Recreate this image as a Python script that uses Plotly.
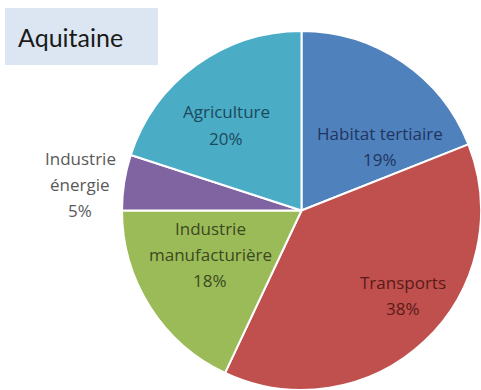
import plotly.graph_objects as go

labels = ["Habitat tertiaire", "Transports", "Industrie manufacturière", "Industrie énergie", "Agriculture"]
label_lines = [["Habitat tertiaire"], ["Transports"], ["Industrie", "manufacturière"], ["Industrie", "énergie"], ["Agriculture"]]
values = [19, 38, 18, 5, 20]
colors = ["#4F81BD", "#C0504D", "#9BBB59", "#8064A2", "#4BACC6"]
text_colors = ["#1F3560", "#5A1A18", "#3B4A1E", "#595959", "#1B4A5C"]
label_pos = [(380, 146), (403, 295), (210, 254), (80, 184), (226, 125)]
LINE_GAP = 26

W, H = 481, 390

fig = go.Figure(go.Pie(
    labels=labels,
    values=values,
    sort=False,
    direction="clockwise",
    rotation=0,
    marker=dict(colors=colors, line=dict(color="white", width=2)),
    textinfo="none",
    hoverinfo="none",
    showlegend=False,
    domain=dict(x=[122 / W, 1.0], y=[0.0, 1 - 31 / H]),
))

annotations = []
for lines, v, c, (px, py) in zip(label_lines, values, text_colors, label_pos):
    all_lines = lines + [f"{v}%"]
    n = len(all_lines)
    for i, t in enumerate(all_lines):
        ly = py + (i - (n - 1) / 2) * LINE_GAP
        annotations.append(dict(
            x=px / W, y=1 - ly / H, xref="paper", yref="paper",
            text=t, showarrow=False,
            font=dict(family="Open Sans", size=17, color=c),
            xanchor="center", yanchor="middle",
        ))

annotations.append(dict(
    x=70 / W, y=1 - 37 / H, xref="paper", yref="paper",
    text="Aquitaine", showarrow=False,
    font=dict(family="Lato", size=25, color="#1a1a1a"),
    xanchor="center", yanchor="middle",
))

fig.update_layout(
    width=W, height=H,
    margin=dict(l=0, r=0, t=0, b=0),
    paper_bgcolor="white",
    plot_bgcolor="white",
    annotations=annotations,
    shapes=[dict(type="rect", xref="paper", yref="paper",
                 x0=5 / W, x1=158 / W, y0=1 - 65 / H, y1=1 - 8 / H,
                 fillcolor="#DCE6F2", line=dict(width=0), layer="below")],
)

fig.write_html("out.html", config={"displayModeBar": False},
               post_script="document.body.style.margin='0';")
